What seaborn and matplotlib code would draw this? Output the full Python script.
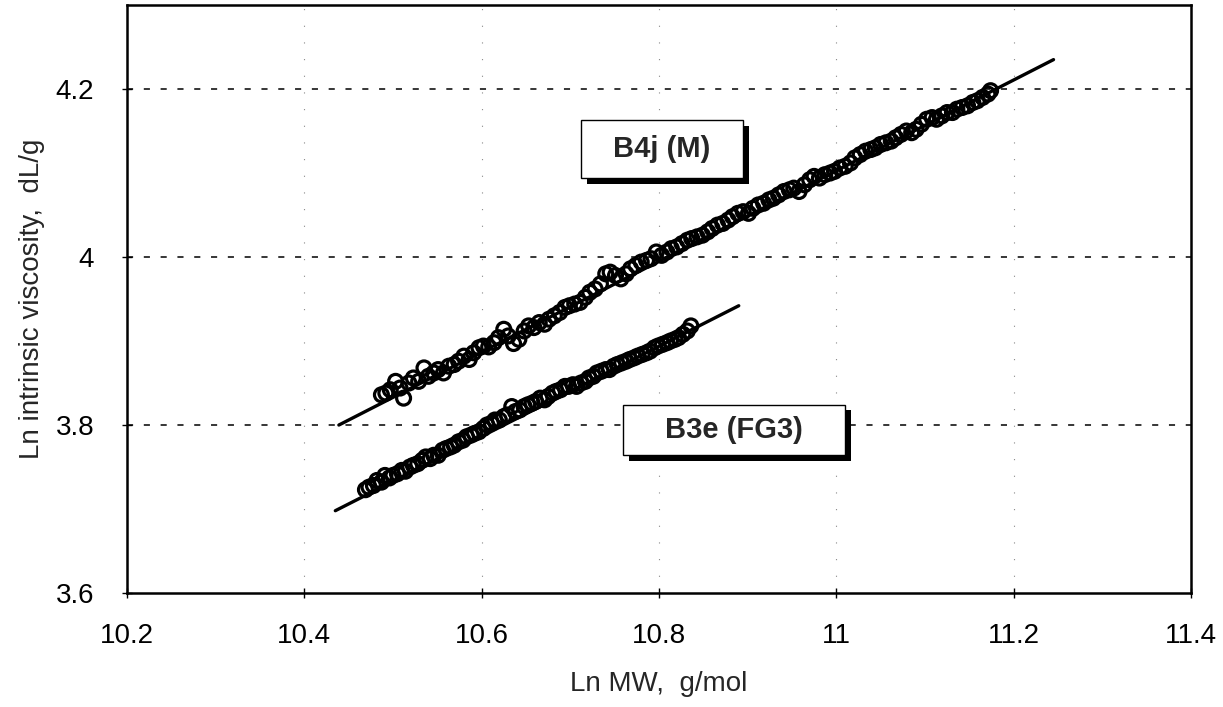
import matplotlib
matplotlib.use("Agg")
import matplotlib.pyplot as plt
from matplotlib.patches import Rectangle
import seaborn as sns
import pandas as pd

# ---- data ----
b4j_x = [10.487, 10.492, 10.497, 10.503, 10.508, 10.512, 10.518, 10.523, 10.529, 10.535,
         10.540, 10.546, 10.551, 10.557, 10.563, 10.569, 10.574, 10.580, 10.586, 10.591,
         10.597, 10.602, 10.608, 10.614, 10.619, 10.625, 10.630, 10.636, 10.642, 10.648,
         10.653, 10.659, 10.665, 10.671, 10.676, 10.682, 10.688, 10.694, 10.699, 10.705,
         10.711, 10.717, 10.722, 10.728, 10.734, 10.740, 10.745, 10.751, 10.757, 10.763,
         10.768, 10.774, 10.780, 10.786, 10.791, 10.797, 10.803, 10.809, 10.814, 10.820,
         10.826, 10.832, 10.837, 10.843, 10.849, 10.855, 10.860, 10.866, 10.872, 10.878,
         10.883, 10.889, 10.895, 10.901, 10.906, 10.912, 10.918, 10.924, 10.929, 10.935,
         10.941, 10.947, 10.952, 10.958, 10.964, 10.970, 10.975, 10.981, 10.987, 10.993,
         10.998, 11.004, 11.010, 11.016, 11.021, 11.027, 11.033, 11.039, 11.044, 11.050,
         11.056, 11.062, 11.067, 11.073, 11.079, 11.085, 11.090, 11.096, 11.102, 11.108,
         11.113, 11.119, 11.125, 11.131, 11.136, 11.142, 11.148, 11.154, 11.159, 11.165,
         11.171, 11.174]
b4j_y = [3.836, 3.838, 3.842, 3.852, 3.844, 3.832, 3.850, 3.856, 3.852, 3.868,
         3.858, 3.862, 3.866, 3.862, 3.870, 3.872, 3.876, 3.882, 3.878, 3.886,
         3.892, 3.894, 3.893, 3.898, 3.904, 3.914, 3.906, 3.897, 3.902, 3.912,
         3.918, 3.916, 3.922, 3.920, 3.926, 3.930, 3.934, 3.940, 3.942, 3.944,
         3.946, 3.952, 3.958, 3.962, 3.968, 3.980, 3.982, 3.978, 3.974, 3.980,
         3.986, 3.990, 3.994, 3.996, 3.998, 4.006, 4.002, 4.006, 4.010, 4.012,
         4.016, 4.020, 4.022, 4.024, 4.026, 4.030, 4.034, 4.038, 4.040, 4.044,
         4.048, 4.052, 4.054, 4.052, 4.058, 4.062, 4.064, 4.068, 4.070, 4.074,
         4.078, 4.080, 4.082, 4.078, 4.086, 4.092, 4.096, 4.094, 4.098, 4.100,
         4.102, 4.106, 4.108, 4.112, 4.118, 4.122, 4.126, 4.128, 4.130, 4.134,
         4.136, 4.138, 4.142, 4.146, 4.150, 4.148, 4.152, 4.158, 4.164, 4.166,
         4.164, 4.168, 4.172, 4.172, 4.176, 4.178, 4.180, 4.184, 4.186, 4.190,
         4.194, 4.198]

b3e_x = [10.469, 10.473, 10.478, 10.482, 10.487, 10.491, 10.496, 10.500, 10.505, 10.510,
         10.514, 10.519, 10.523, 10.528, 10.533, 10.537, 10.542, 10.546, 10.551, 10.556,
         10.560, 10.565, 10.569, 10.574, 10.579, 10.583, 10.588, 10.592, 10.597, 10.602,
         10.606, 10.611, 10.615, 10.620, 10.625, 10.629, 10.634, 10.638, 10.643, 10.648,
         10.652, 10.657, 10.661, 10.666, 10.671, 10.675, 10.680, 10.684, 10.689, 10.694,
         10.698, 10.703, 10.707, 10.712, 10.717, 10.721, 10.726, 10.730, 10.735, 10.740,
         10.744, 10.749, 10.753, 10.758, 10.763, 10.767, 10.772, 10.776, 10.781, 10.786,
         10.790, 10.795, 10.799, 10.804, 10.809, 10.813, 10.818, 10.822, 10.827, 10.832,
         10.836]
b3e_y = [3.723, 3.726, 3.728, 3.734, 3.732, 3.740, 3.737, 3.740, 3.742, 3.746,
         3.745, 3.750, 3.752, 3.754, 3.758, 3.762, 3.760, 3.764, 3.764, 3.770,
         3.772, 3.774, 3.776, 3.780, 3.782, 3.786, 3.788, 3.790, 3.792, 3.796,
         3.800, 3.802, 3.806, 3.806, 3.810, 3.812, 3.822, 3.816, 3.818, 3.822,
         3.824, 3.826, 3.828, 3.832, 3.830, 3.834, 3.838, 3.840, 3.842, 3.846,
         3.846, 3.848, 3.846, 3.850, 3.852, 3.856, 3.858, 3.862, 3.864, 3.866,
         3.866, 3.870, 3.872, 3.874, 3.876, 3.878, 3.880, 3.882, 3.884, 3.886,
         3.888, 3.892, 3.894, 3.896, 3.898, 3.900, 3.902, 3.904, 3.908, 3.912,
         3.918]

# trend lines (end points)
b4j_fit_x = [10.439, 11.245]
b4j_fit_y = [3.800, 4.235]
b3e_fit_x = [10.435, 10.890]
b3e_fit_y = [3.698, 3.942]

x_ticks = [10.2, 10.4, 10.6, 10.8, 11.0, 11.2, 11.4]
x_tick_labels = ["10.2", "10.4", "10.6", "10.8", "11", "11.2", "11.4"]
y_ticks = [3.6, 3.8, 4.0, 4.2]
y_tick_labels = ["3.6", "3.8", "4", "4.2"]

series_labels = ["B4j (M)", "B3e (FG3)"]
x_label = "Ln MW,  g/mol"
y_label = "Ln intrinsic viscosity,  dL/g"

# ---- plot ----
sns.set_theme(style="white")
plt.rcParams["font.family"] = ["Liberation Sans", "DejaVu Sans"]

fig = plt.figure(figsize=(12.23, 7.07), dpi=100)
ax = fig.add_axes([0.1038, 0.1612, 0.8700, 0.8317])

pts = pd.concat([
    pd.DataFrame({"x": b4j_x, "y": b4j_y, "s": series_labels[0]}),
    pd.DataFrame({"x": b3e_x, "y": b3e_y, "s": series_labels[1]}),
])
fits = pd.concat([
    pd.DataFrame({"x": b4j_fit_x, "y": b4j_fit_y, "s": series_labels[0]}),
    pd.DataFrame({"x": b3e_fit_x, "y": b3e_fit_y, "s": series_labels[1]}),
])

ax.set_xlim(10.2, 11.4)
ax.set_ylim(3.6, 4.3)

# grid
for yv in y_ticks[1:]:
    ax.axhline(yv, color="black", lw=1.1, ls=(0, (4, 7)), zorder=0)
for xv in x_ticks[1:-1]:
    ax.axvline(xv, color="#888888", lw=0.8, ls=(0, (1, 14)), zorder=0)

sns.lineplot(data=fits, x="x", y="y", units="s", estimator=None, color="black",
             lw=2.4, ax=ax, legend=False, zorder=2, sort=False)
sns.scatterplot(data=pts, x="x", y="y", ax=ax, marker="o", s=100,
                facecolor="none", edgecolor="black", linewidth=2.3,
                legend=False, zorder=3)

ax.set_xticks(x_ticks)
ax.set_xticklabels(x_tick_labels)
ax.set_yticks(y_ticks)
ax.set_yticklabels(y_tick_labels)
ax.tick_params(axis="both", direction="inout", length=7, width=1.0,
               labelsize=20, colors="black", bottom=True, left=True)
ax.tick_params(axis="x", pad=18)
ax.tick_params(axis="y", pad=20)

for sp in ax.spines.values():
    sp.set_color("black")
    sp.set_linewidth(1.8)
    sp.set_visible(True)

ax.set_xlabel(x_label, fontsize=20, labelpad=16)
ax.set_ylabel(y_label, fontsize=20, labelpad=8)

# label boxes with shadow (corners in data units)
def label_box(x0, x1, y0, y1, text):
    dx = 0.0065
    dy = 0.0065
    ax.add_patch(Rectangle((x0 + dx, y0 - dy), x1 - x0, y1 - y0, facecolor="black",
                           edgecolor="none", zorder=5))
    ax.add_patch(Rectangle((x0, y0), x1 - x0, y1 - y0, facecolor="white",
                           edgecolor="black", linewidth=1.0, zorder=6))
    ax.text((x0 + x1) / 2, (y0 + y1) / 2, text, fontsize=21, fontweight="bold",
            ha="center", va="center", zorder=7)

label_box(10.712, 10.895, 4.094, 4.163, series_labels[0])
label_box(10.760, 11.010, 3.764, 3.824, series_labels[1])

fig.savefig("out.png", dpi=100, facecolor="white")
